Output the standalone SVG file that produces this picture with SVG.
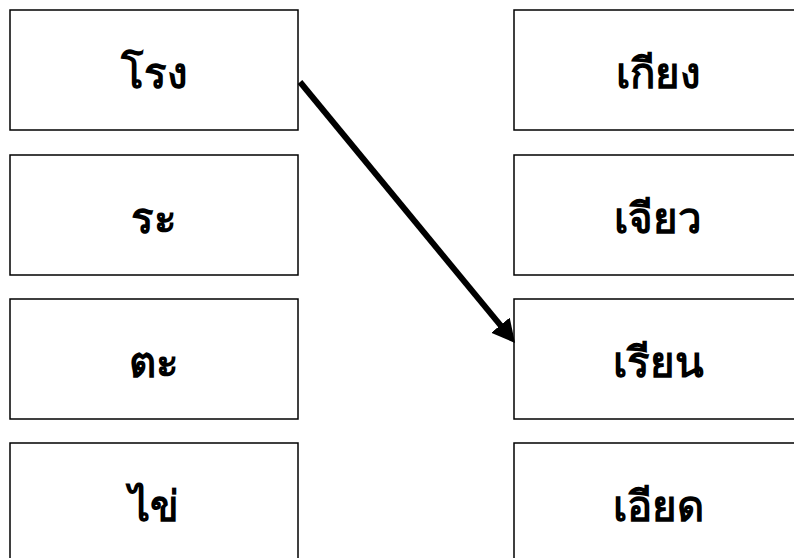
<svg xmlns="http://www.w3.org/2000/svg" width="794" height="558" viewBox="0 0 794 558">
<style>
.box{fill:#fff;stroke:#000;stroke-width:1.5}
.lbl{font-family:"Liberation Serif","DejaVu Serif",serif;font-weight:bold;font-size:42px;text-anchor:middle;fill:#000}
</style>
<defs>
<marker id="ah" markerWidth="26" markerHeight="26" refX="8" refY="12" orient="auto" markerUnits="userSpaceOnUse">
<path d="M0,0 L23,12 L0,24 Z" fill="#000"/>
</marker>
</defs>
<rect width="794" height="558" fill="#fff"/>
<g id="n1"><rect class="box" x="10" y="10" width="288" height="120"/><text class="lbl" x="154" y="88">โรง</text></g>
<g id="n2"><rect class="box" x="10" y="155" width="288" height="120"/><text class="lbl" x="154" y="233">ระ</text></g>
<g id="n3"><rect class="box" x="10" y="299" width="288" height="120"/><text class="lbl" x="154" y="377">ตะ</text></g>
<g id="n4"><rect class="box" x="10" y="443" width="288" height="120"/><text class="lbl" x="154" y="521">ไข่</text></g>
<g id="n5"><rect class="box" x="514" y="10" width="288" height="120"/><text class="lbl" x="658" y="88">เกียง</text></g>
<g id="n6"><rect class="box" x="514" y="155" width="288" height="120"/><text class="lbl" x="658" y="233">เจียว</text></g>
<g id="n7"><rect class="box" x="514" y="299" width="288" height="120"/><text class="lbl" x="658" y="377">เรียน</text></g>
<g id="n8"><rect class="box" x="514" y="443" width="288" height="120"/><text class="lbl" x="658" y="521">เอียด</text></g>
<g id="connectors">
<line x1="300" y1="82" x2="505.5" y2="331.4" stroke="#000" stroke-width="6" marker-end="url(#ah)"/>
</g>
</svg>
